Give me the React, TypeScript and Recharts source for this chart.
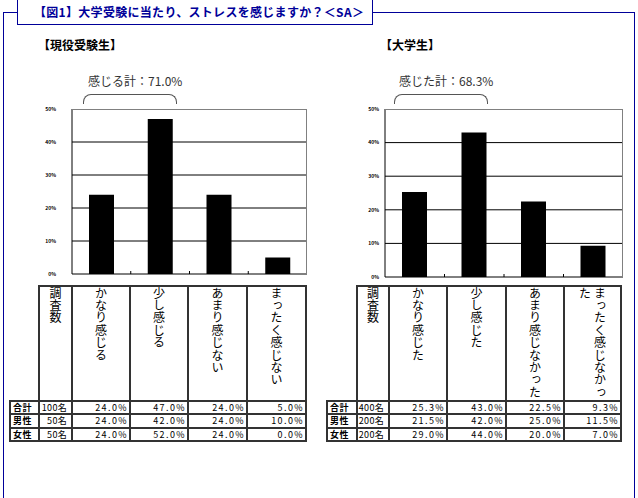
import React from 'react';
import { BarChart, Bar, XAxis, YAxis, CartesianGrid } from 'recharts';

// --- data ---
const categoriesStudents = ['かなり感じる', '少し感じる', 'あまり感じない', 'まったく感じない'];
const totalStudents = [24.0, 47.0, 24.0, 5.0];
const maleStudents = [24.0, 42.0, 24.0, 10.0];
const femaleStudents = [24.0, 52.0, 24.0, 0.0];
const countsStudents = ['100名', '50名', '50名'];

const categoriesUniv = ['かなり感じた', '少し感じた', 'あまり感じなかった', 'まったく感じなかった'];
const totalUniv = [25.3, 43.0, 22.5, 9.3];
const maleUniv = [21.5, 42.0, 25.0, 11.5];
const femaleUniv = [29.0, 44.0, 20.0, 7.0];
const countsUniv = ['400名', '200名', '200名'];

const rowLabels = ['合計', '男性', '女性'];
const countHeader = '調査数';
const yTicks = [0, 10, 20, 30, 40, 50];

const FONT = '"Noto Sans CJK JP", "Noto Sans", sans-serif';
const BLUE = '#000099';

interface PanelChartProps {
  categories: string[];
  values: number[];
  left: number;
  top: number;
  width: number;
  height: number;
  yAxisWidth: number;
  marginRight: number;
  tickMargin: number;
}

const MARGIN_TOP = 9;
const X_AXIS_H = 16;

const PanelChart: React.FC<PanelChartProps> = ({
  categories, values, left, top, width, height, yAxisWidth, marginRight, tickMargin
}) => {
  const data = categories.map((name, i) => ({ name, value: values[i] }));
  const plotW = width - yAxisWidth - marginRight;
  const plotH = height - MARGIN_TOP - X_AXIS_H;
  const step = plotW / categories.length;

  // small tick marks between categories, pointing up into the plot
  const BoundaryTick = (props: any) => {
    const { x, y, index } = props;
    if (index === 0) return null;
    const bx = x - step / 2;
    return <line x1={bx} x2={bx} y1={y - 3} y2={y} stroke="#000" />;
  };

  return (
    <div style={{ position: 'absolute', left, top, width, height }}>
      <BarChart
        width={width}
        height={height}
        data={data}
        margin={{ top: MARGIN_TOP, right: marginRight, bottom: 0, left: 0 }}
      >
        <CartesianGrid vertical={false} stroke="#000" horizontalValues={[10, 20, 30, 40]} />
        <XAxis
          dataKey="name"
          height={X_AXIS_H}
          tickSize={0}
          tickMargin={0}
          tickLine={false}
          axisLine={{ stroke: '#000' }}
          tick={<BoundaryTick />}
          interval={0}
        />
        <YAxis
          width={yAxisWidth}
          domain={[0, 50]}
          ticks={yTicks}
          interval={0}
          tickSize={0}
          tickMargin={tickMargin}
          tickLine={false}
          axisLine={{ stroke: '#000' }}
          tick={{ fontSize: 5, fill: '#000', fontFamily: FONT, fontWeight: 700 }}
          tickFormatter={(v: number) => `${v}%`}
        />
        <Bar dataKey="value" fill="#000" barSize={25} isAnimationActive={false} />
      </BarChart>
      {/* grey top/right edge of the plot box */}
      <div
        style={{
          position: 'absolute',
          left: yAxisWidth,
          top: MARGIN_TOP,
          width: plotW,
          height: plotH,
          borderTop: '1px solid #808080',
          borderRight: '1px solid #808080',
          boxSizing: 'border-box',
          pointerEvents: 'none'
        }}
      />
    </div>
  );
};

interface PanelTableProps {
  xs: number[]; // column rule positions
  ys: number[]; // row rule positions (header top, header bottom, rows...)
  categories: string[];
  counts: string[];
  rows: number[][];
}

const Cell: React.FC<{
  x0: number; x1: number; y0: number; y1: number; style?: React.CSSProperties; children?: React.ReactNode;
}> = ({ x0, x1, y0, y1, style, children }) => (
  <div
    style={{
      position: 'absolute',
      left: x0 - 1,
      top: y0 - 1,
      width: x1 - x0 + 2,
      height: y1 - y0 + 2,
      border: '2px solid #333',
      boxSizing: 'border-box',
      overflow: 'hidden',
      whiteSpace: 'nowrap',
      ...style
    }}
  >
    {children}
  </div>
);

const PanelTable: React.FC<PanelTableProps> = ({ xs, ys, categories, counts, rows }) => {
  const headers = [countHeader, ...categories];
  return (
    <>
      {headers.map((h, i) => (
        <Cell key={h} x0={xs[i + 1]} x1={xs[i + 2]} y0={ys[0]} y1={ys[1]} style={{ textAlign: 'center' }}>
          <div
            style={{
              display: 'inline-block',
              writingMode: 'vertical-rl',
              height: 113,
              fontSize: 12,
              letterSpacing: 0.4,
              lineHeight: '15px',
              whiteSpace: 'normal',
              textAlign: 'left',
              color: '#000'
            }}
          >
            {h}
          </div>
        </Cell>
      ))}
      {rowLabels.map((label, r) => {
        const y0 = ys[r + 1];
        const y1 = ys[r + 2];
        const lh = `${y1 - y0 - 2}px`;
        const cellText: React.CSSProperties = {
          textAlign: 'right',
          fontSize: 9,
          lineHeight: lh,
          letterSpacing: 1.4,
          paddingRight: 1
        };
        return (
          <React.Fragment key={label}>
            <Cell
              x0={xs[0]}
              x1={xs[1]}
              y0={y0}
              y1={y1}
              style={{ fontSize: 9, fontWeight: 700, lineHeight: lh, paddingLeft: 2, letterSpacing: 0.5 }}
            >
              {label}
            </Cell>
            <Cell
              x0={xs[1]}
              x1={xs[2]}
              y0={y0}
              y1={y1}
              style={{ ...cellText, letterSpacing: 0.3, paddingRight: 4 }}
            >
              {counts[r]}
            </Cell>
            {rows[r].map((v, i) => (
              <Cell key={i} x0={xs[i + 2]} x1={xs[i + 3]} y0={y0} y1={y1} style={cellText}>
                {`${v.toFixed(1)}%`}
              </Cell>
            ))}
          </React.Fragment>
        );
      })}
    </>
  );
};

const Bracket: React.FC<{ left: number; width: number; label: string }> = ({ left, width, label }) => (
  <>
    <div
      style={{
        position: 'absolute',
        left: left + 5,
        top: 73,
        fontSize: 12,
        lineHeight: '16px',
        color: '#333',
        whiteSpace: 'nowrap'
      }}
    >
      {label}
    </div>
    <div
      style={{
        position: 'absolute',
        left,
        top: 94,
        width,
        height: 10,
        borderTop: '1px solid #555',
        borderLeft: '1px solid #555',
        borderRight: '1px solid #555',
        borderRadius: '8px 8px 0 0',
        boxSizing: 'border-box'
      }}
    />
  </>
);

const App: React.FC = () => {
  const rowsStudents = [totalStudents, maleStudents, femaleStudents];
  const rowsUniv = [totalUniv, maleUniv, femaleUniv];
  const total = (v: number[]) => (v[0] + v[1]).toFixed(1);
  const tableYs = [286, 401, 414, 428, 441];

  return (
    <div
      style={{
        position: 'absolute',
        left: 0,
        top: 0,
        width: 638,
        height: 498,
        overflow: 'hidden',
        background: '#fff',
        fontFamily: FONT
      }}
    >
      {/* outer frame */}
      <div
        style={{
          position: 'absolute',
          left: 3,
          top: 12,
          width: 632,
          height: 520,
          border: `1px solid ${BLUE}`,
          boxSizing: 'border-box'
        }}
      />
      {/* title box */}
      <div
        style={{
          position: 'absolute',
          left: 17,
          top: -1,
          width: 356,
          height: 26,
          border: `1px solid ${BLUE}`,
          boxSizing: 'border-box',
          background: '#fff',
          color: BLUE,
          fontWeight: 700,
          fontSize: 12,
          lineHeight: '24px',
          paddingLeft: 16,
          letterSpacing: 0.3,
          whiteSpace: 'nowrap'
        }}
      >
        【図1】大学受験に当たり、ストレスを感じますか？＜SA＞
      </div>

      <div style={{ position: 'absolute', left: 38, top: 37, fontSize: 12, fontWeight: 700, lineHeight: '16px' }}>
        【現役受験生】
      </div>
      <div style={{ position: 'absolute', left: 380, top: 37, fontSize: 12, fontWeight: 700, lineHeight: '16px' }}>
        【大学生】
      </div>

      <Bracket left={83} width={94} label={`感じる計：${total(totalStudents)}%`} />
      <Bracket left={394} width={94} label={`感じた計：${total(totalUniv)}%`} />

      <PanelChart
        categories={categoriesStudents}
        values={totalStudents}
        left={40}
        top={100}
        width={280}
        height={190}
        yAxisWidth={32}
        marginRight={13}
        tickMargin={16}
      />
      <PanelChart
        categories={categoriesUniv}
        values={totalUniv}
        left={340}
        top={100}
        width={290}
        height={193}
        yAxisWidth={45}
        marginRight={7}
        tickMargin={6}
      />

      <PanelTable
        xs={[10, 39, 72, 130, 188, 247, 306]}
        ys={tableYs}
        categories={categoriesStudents}
        counts={countsStudents}
        rows={rowsStudents}
      />
      <PanelTable
        xs={[327, 357, 389, 447, 506, 564, 621]}
        ys={tableYs}
        categories={categoriesUniv}
        counts={countsUniv}
        rows={rowsUniv}
      />
    </div>
  );
};

export default App;
